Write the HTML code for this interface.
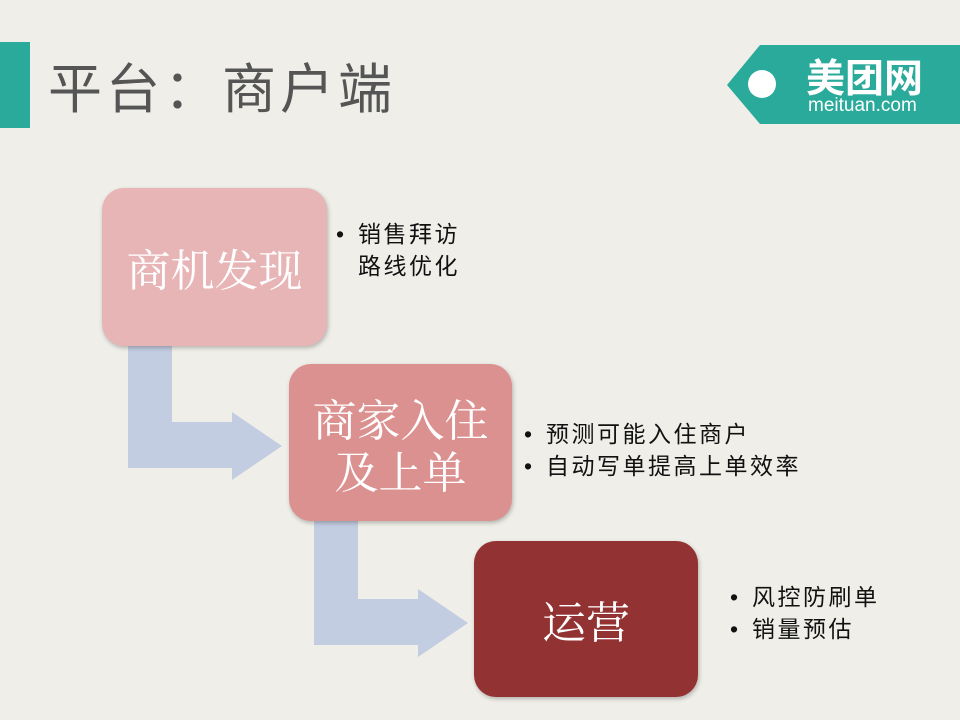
<!DOCTYPE html>
<html><head><meta charset="utf-8"><style>
body{margin:0;width:960px;height:720px;background:#efeee8;position:relative;overflow:hidden;font-family:"Liberation Sans","Noto Sans CJK SC",sans-serif}
.abs{position:absolute}
.box{position:absolute;border-radius:22px;color:#fff;display:flex;align-items:center;justify-content:center;text-align:center;font-family:"Noto Serif CJK SC","Noto Sans CJK SC",serif;font-size:44px;line-height:52px;box-shadow:1px 2px 4px rgba(0,0,0,.25)}
.b{position:absolute;font-size:23px;letter-spacing:2.5px;color:#111;line-height:32px}
.b span{position:absolute;left:0}
</style></head><body>
<div class="abs" style="left:0;top:42px;width:30px;height:86px;background:#2aaa9a"></div>
<div class="abs" style="left:48px;top:56px;font-size:54px;letter-spacing:4px;color:#555;line-height:68px">平台：商户端</div>
<svg class="abs" style="left:0;top:0" width="960" height="720">
<polygon points="727,85 760,45 960,45 960,124 760,124" fill="#2aaa9a"/>
<circle cx="762" cy="84" r="14" fill="#fff"/>
<text x="806" y="92" font-size="39" fill="#fff" font-family="Noto Sans CJK SC,sans-serif" font-weight="bold">美团网</text>
<text x="808" y="111" font-size="19" fill="#fff" font-family="Liberation Sans,sans-serif">meituan.com</text>
<polygon points="128,346 172,346 172,422 232,422 232,412 282,446 232,480 232,468 128,468" fill="#c3cde1"/>
<polygon points="314,521 358,521 358,599 418,599 418,589 468,623 418,657 418,645 314,645" fill="#c3cde1"/>
</svg>
<div class="box" style="left:102px;top:188px;width:225px;height:158px;background:#e8b5b7">商机发现</div>
<div class="box" style="left:289px;top:364px;width:223px;height:157px;background:#dc9191">商家入住<br>及上单</div>
<div class="box" style="left:474px;top:541px;width:224px;height:156px;background:#923232">运营</div>
<div class="b" style="left:358px;top:218px"><span style="left:-22px">•</span>销售拜访<br>路线优化</div>
<div class="b" style="left:546px;top:418px"><span style="left:-22px">•</span><span style="left:-22px;top:32px">•</span>预测可能入住商户<br>自动写单提高上单效率</div>
<div class="b" style="left:752px;top:581px"><span style="left:-22px">•</span><span style="left:-22px;top:32px">•</span>风控防刷单<br>销量预估</div>
</body></html>
